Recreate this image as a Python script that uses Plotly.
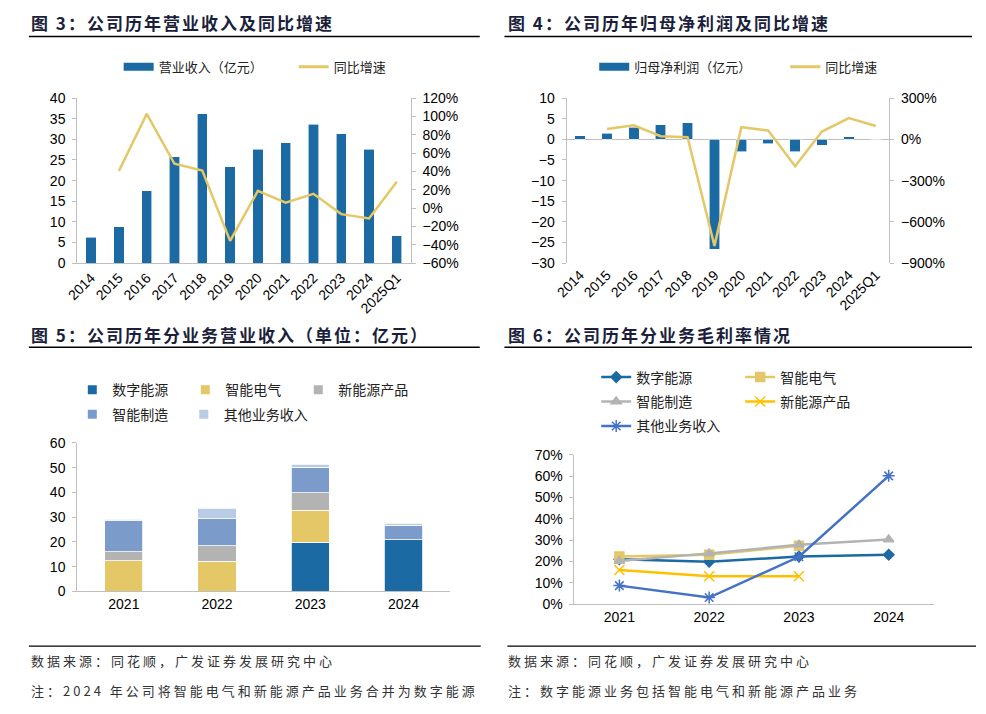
import plotly.graph_objects as go

# The page body keeps the browser's default 8px margin, so the figure is sized
# to fill the remaining 970x698 area and positions are given in page pixels.
PAGE_W, PAGE_H = 986, 714
OFF = 8
W, H = PAGE_W - 2 * OFF, PAGE_H - 2 * OFF


def px(x):
    return (x - OFF) / W


def py(y):
    return 1 - (y - OFF) / H


# ---------------- data ----------------
years = ['2014', '2015', '2016', '2017', '2018', '2019', '2020', '2021', '2022', '2023', '2024', '2025Q1']
revenue = [6.3, 8.8, 17.5, 25.8, 36.2, 23.4, 27.6, 29.2, 33.7, 31.3, 27.6, 6.6]
revenue_yoy = [None, 0.405, 1.028, 0.484, 0.41, -0.357, 0.188, 0.06, 0.156, -0.065, -0.112, 0.288]

net_profit = [0.85, 1.5, 2.9, 3.5, 4.0, -26.6, -3.0, -1.05, -3.0, -1.4, 0.6, 0.2]
profit_yoy = [None, 0.76, 1.02, 0.23, 0.16, -7.74, 0.88, 0.64, -1.95, 0.57, 1.55, 0.97]

seg_years = ['2021', '2022', '2023', '2024']
digital_energy = [None, None, 19.8, 20.9]
smart_electric = [12.4, 12.3, 13.0, None]
new_energy = [3.7, 6.2, 7.1, None]
smart_mfg = [12.4, 10.8, 10.3, 5.9]
other_biz = [0.7, 4.3, 1.2, 0.8]

gm_digital = [0.211, 0.199, 0.223, 0.232]
gm_electric = [0.223, 0.232, 0.274, None]
gm_mfg = [0.202, 0.238, 0.278, 0.303]
gm_newenergy = [0.16, 0.131, 0.131, None]
gm_other = [0.087, 0.031, 0.222, 0.601]

titles = [
    '图 3：公司历年营业收入及同比增速',
    '图 4：公司历年归母净利润及同比增速',
    '图 5：公司历年分业务营业收入（单位：亿元）',
    '图 6：公司历年分业务毛利率情况',
]
source_text = '数据来源：同花顺，广发证券发展研究中心'
note_left = '注：2024 年公司将智能电气和新能源产品业务合并为数字能源'
note_right = '注：数字能源业务包括智能电气和新能源产品业务'

# ---------------- styles ----------------
BLUE = '#1c6aa3'
YELLOW = '#e4c766'
GRAY = '#b3b3b3'
MBLUE = '#7b9ccb'
LBLUE = '#b8cce4'
GOLD = '#ffc000'
OBLUE = '#4472c4'
AXC = '#bfbfbf'
NUMFONT = 'Liberation Sans, Arial, sans-serif'
CJK = 'Noto Sans CJK SC, sans-serif'
TICKF = dict(family=NUMFONT, size=14, color='#000000')
LEGF = dict(family=CJK, size=13, color='#222222')
LEGF14 = dict(family=CJK, size=14, color='#222222')

fig = go.Figure()

# ---------------- panel 1 ----------------
fig.add_trace(go.Bar(x=years, y=revenue, marker=dict(color=BLUE, line=dict(color='white', width=0.6)),
                     width=0.37, xaxis='x', yaxis='y', showlegend=False))
fig.add_trace(go.Scatter(x=years, y=revenue_yoy, mode='lines', line=dict(color=YELLOW, width=2.5),
                         xaxis='x', yaxis='y2', showlegend=False))
fig.add_trace(go.Scatter(x=[None], y=[None], mode='lines', name='营业收入（亿元）',
                         line=dict(color=BLUE, width=8), xaxis='x', yaxis='y', legend='legend'))
fig.add_trace(go.Scatter(x=[None], y=[None], mode='lines', name='同比增速',
                         line=dict(color=YELLOW, width=3), xaxis='x', yaxis='y', legend='legend'))

# ---------------- panel 2 ----------------
fig.add_trace(go.Bar(x=years, y=net_profit, marker=dict(color=BLUE, line=dict(color='white', width=0.6)),
                     width=0.39, xaxis='x2', yaxis='y3', showlegend=False))
fig.add_trace(go.Scatter(x=years, y=profit_yoy, mode='lines', line=dict(color=YELLOW, width=2.5),
                         xaxis='x2', yaxis='y4', showlegend=False))
fig.add_trace(go.Scatter(x=[None], y=[None], mode='lines', name='归母净利润（亿元）',
                         line=dict(color=BLUE, width=8), xaxis='x2', yaxis='y3', legend='legend2'))
fig.add_trace(go.Scatter(x=[None], y=[None], mode='lines', name='同比增速',
                         line=dict(color=YELLOW, width=3), xaxis='x2', yaxis='y3', legend='legend2'))

# ---------------- panel 3 ----------------
seg_series = [
    ('数字能源', digital_energy, BLUE, 'legend3'),
    ('智能电气', smart_electric, YELLOW, 'legend3'),
    ('新能源产品', new_energy, GRAY, 'legend3'),
    ('智能制造', smart_mfg, MBLUE, 'legend4'),
    ('其他业务收入', other_biz, LBLUE, 'legend8'),
]
for name, vals, col, _ in seg_series:
    fig.add_trace(go.Bar(x=seg_years, y=vals, name=name, width=0.41,
                         marker=dict(color=col, line=dict(color='white', width=0.8)),
                         xaxis='x3', yaxis='y5', showlegend=False))
for name, vals, col, lg in seg_series:
    fig.add_trace(go.Scatter(x=[None], y=[None], mode='markers', name=name,
                             marker=dict(color=col, symbol='square', size=9),
                             xaxis='x3', yaxis='y5', legend=lg))

# ---------------- panel 4 ----------------
gm_series = [
    ('数字能源', gm_digital, BLUE, 'diamond', 8, 'legend5'),
    ('智能电气', gm_electric, YELLOW, 'square', 9, 'legend5'),
    ('智能制造', gm_mfg, GRAY, 'triangle-up', 9, 'legend6'),
    ('新能源产品', gm_newenergy, GOLD, 'x-thin-open', 10, 'legend6'),
    ('其他业务收入', gm_other, OBLUE, 'asterisk-open', 10, 'legend7'),
]
for name, vals, col, sym, sz, lg in gm_series:
    fig.add_trace(go.Scatter(x=seg_years, y=vals, name=name, mode='lines+markers',
                             line=dict(color=col, width=2.5),
                             marker=dict(color=col, symbol=sym, size=sz, line=dict(color=col, width=1.5)),
                             xaxis='x4', yaxis='y6', legend=lg))


# ---------------- axes ----------------
def yax(**kw):
    d = dict(showline=True, linecolor=AXC, linewidth=1, ticks='outside', ticklen=4, tickcolor=AXC,
             tickfont=TICKF, showgrid=False, zeroline=False, ticklabelstandoff=4, fixedrange=True)
    d.update(kw)
    return d


def xax(**kw):
    d = dict(type='category', showline=True, linecolor=AXC, linewidth=1, ticks='', tickfont=TICKF,
             showgrid=False, zeroline=False, fixedrange=True)
    d.update(kw)
    return d


top_dom = [py(261), py(92)]
fig.update_layout(
    xaxis=xax(domain=[px(65), px(403)], anchor='y', tickangle=-45, categoryorder='array', categoryarray=years,
              range=[-0.5, 11.5]),
    yaxis=yax(domain=top_dom, anchor='x', range=[0, 40], dtick=5),
    yaxis2=yax(overlaying='y', anchor='x', side='right', range=[-0.6, 1.2], dtick=0.2, tickformat='.0%'),
    xaxis2=xax(domain=[px(561), px(888)], anchor='y3', tickangle=-45, showline=False, categoryorder='array',
               categoryarray=years, range=[-0.5, 11.5]),
    yaxis3=yax(domain=top_dom, anchor='x2', range=[-30, 10], dtick=5, zeroline=True, zerolinecolor=AXC,
               zerolinewidth=1),
    yaxis4=yax(overlaying='y3', anchor='x2', side='right', range=[-9, 3], dtick=3, tickformat='.0%'),
    xaxis3=xax(domain=[px(65), px(443)], anchor='y5', categoryorder='array', categoryarray=seg_years,
               range=[-0.5, 3.5]),
    yaxis5=yax(domain=[py(597), py(445)], anchor='x3', range=[0, 60], dtick=10),
    xaxis4=xax(domain=[px(569), px(933)], anchor='y6', categoryorder='array', categoryarray=seg_years,
               range=[-0.5, 3.5]),
    yaxis6=yax(domain=[py(610), py(457)], anchor='x4', range=[0, 0.7], dtick=0.1, tickformat='.0%'),
)


# ---------------- legends ----------------
def leg(x, y, ew, font=LEGF):
    return dict(x=px(x), y=py(y), xanchor='left', yanchor='middle', orientation='h', entrywidth=ew,
                entrywidthmode='pixels', font=font, bgcolor='rgba(0,0,0,0)', itemwidth=30,
                itemclick=False, itemdoubleclick=False, traceorder='normal')


fig.update_layout(
    legend=leg(107, 60, 130),
    legend2=leg(589, 60, 146),
    legend3=leg(60, 391, 68, LEGF14),
    legend4=leg(60, 416, 68, LEGF14),
    legend8=leg(173, 416, 100, LEGF14),
    legend5=leg(591, 378, 99, LEGF14),
    legend6=leg(591, 403, 99, LEGF14),
    legend7=leg(591, 428, 99, LEGF14),
)

# ---------------- titles, rules, notes ----------------
ann = []
shapes = []
TITLEF = dict(family=CJK, size=17, color='#1b1f3b', weight=700)
for t, (x, y) in zip(titles, [(16, 15), (500, 15), (16, 334), (500, 334)]):
    ann.append(dict(text='<span style="letter-spacing:2px">' + t + '</span>', x=px(x), y=py(y),
                    xref='paper', yref='paper', xanchor='left', yanchor='middle',
                    showarrow=False, font=TITLEF))
for (x0, x1, y) in [(16, 473, 29), (498, 972, 29), (16, 473, 347), (498, 972, 347), (16, 474, 653), (501, 976, 653)]:
    shapes.append(dict(type='line', xref='paper', yref='paper', x0=px(x0), x1=px(x1), y0=py(y), y1=py(y),
                       line=dict(color='#000000', width=1.3)))
NOTEF = dict(family=CJK, size=13, color='#333333')
for t, (x, y) in zip([source_text, note_left, source_text, note_right],
                     [(16, 668), (16, 698), (500, 668), (500, 698)]):
    ann.append(dict(text='<span style="letter-spacing:3px">' + t + '</span>', x=px(x), y=py(y),
                    xref='paper', yref='paper', xanchor='left', yanchor='middle',
                    showarrow=False, font=NOTEF))

fig.update_layout(
    width=W, height=H, margin=dict(l=0, r=0, t=0, b=0), autosize=False,
    paper_bgcolor='white', plot_bgcolor='white', barmode='stack',
    annotations=ann, shapes=shapes, hovermode=False,
)

fig.write_html('out.html', config={'displayModeBar': False, 'staticPlot': True})
